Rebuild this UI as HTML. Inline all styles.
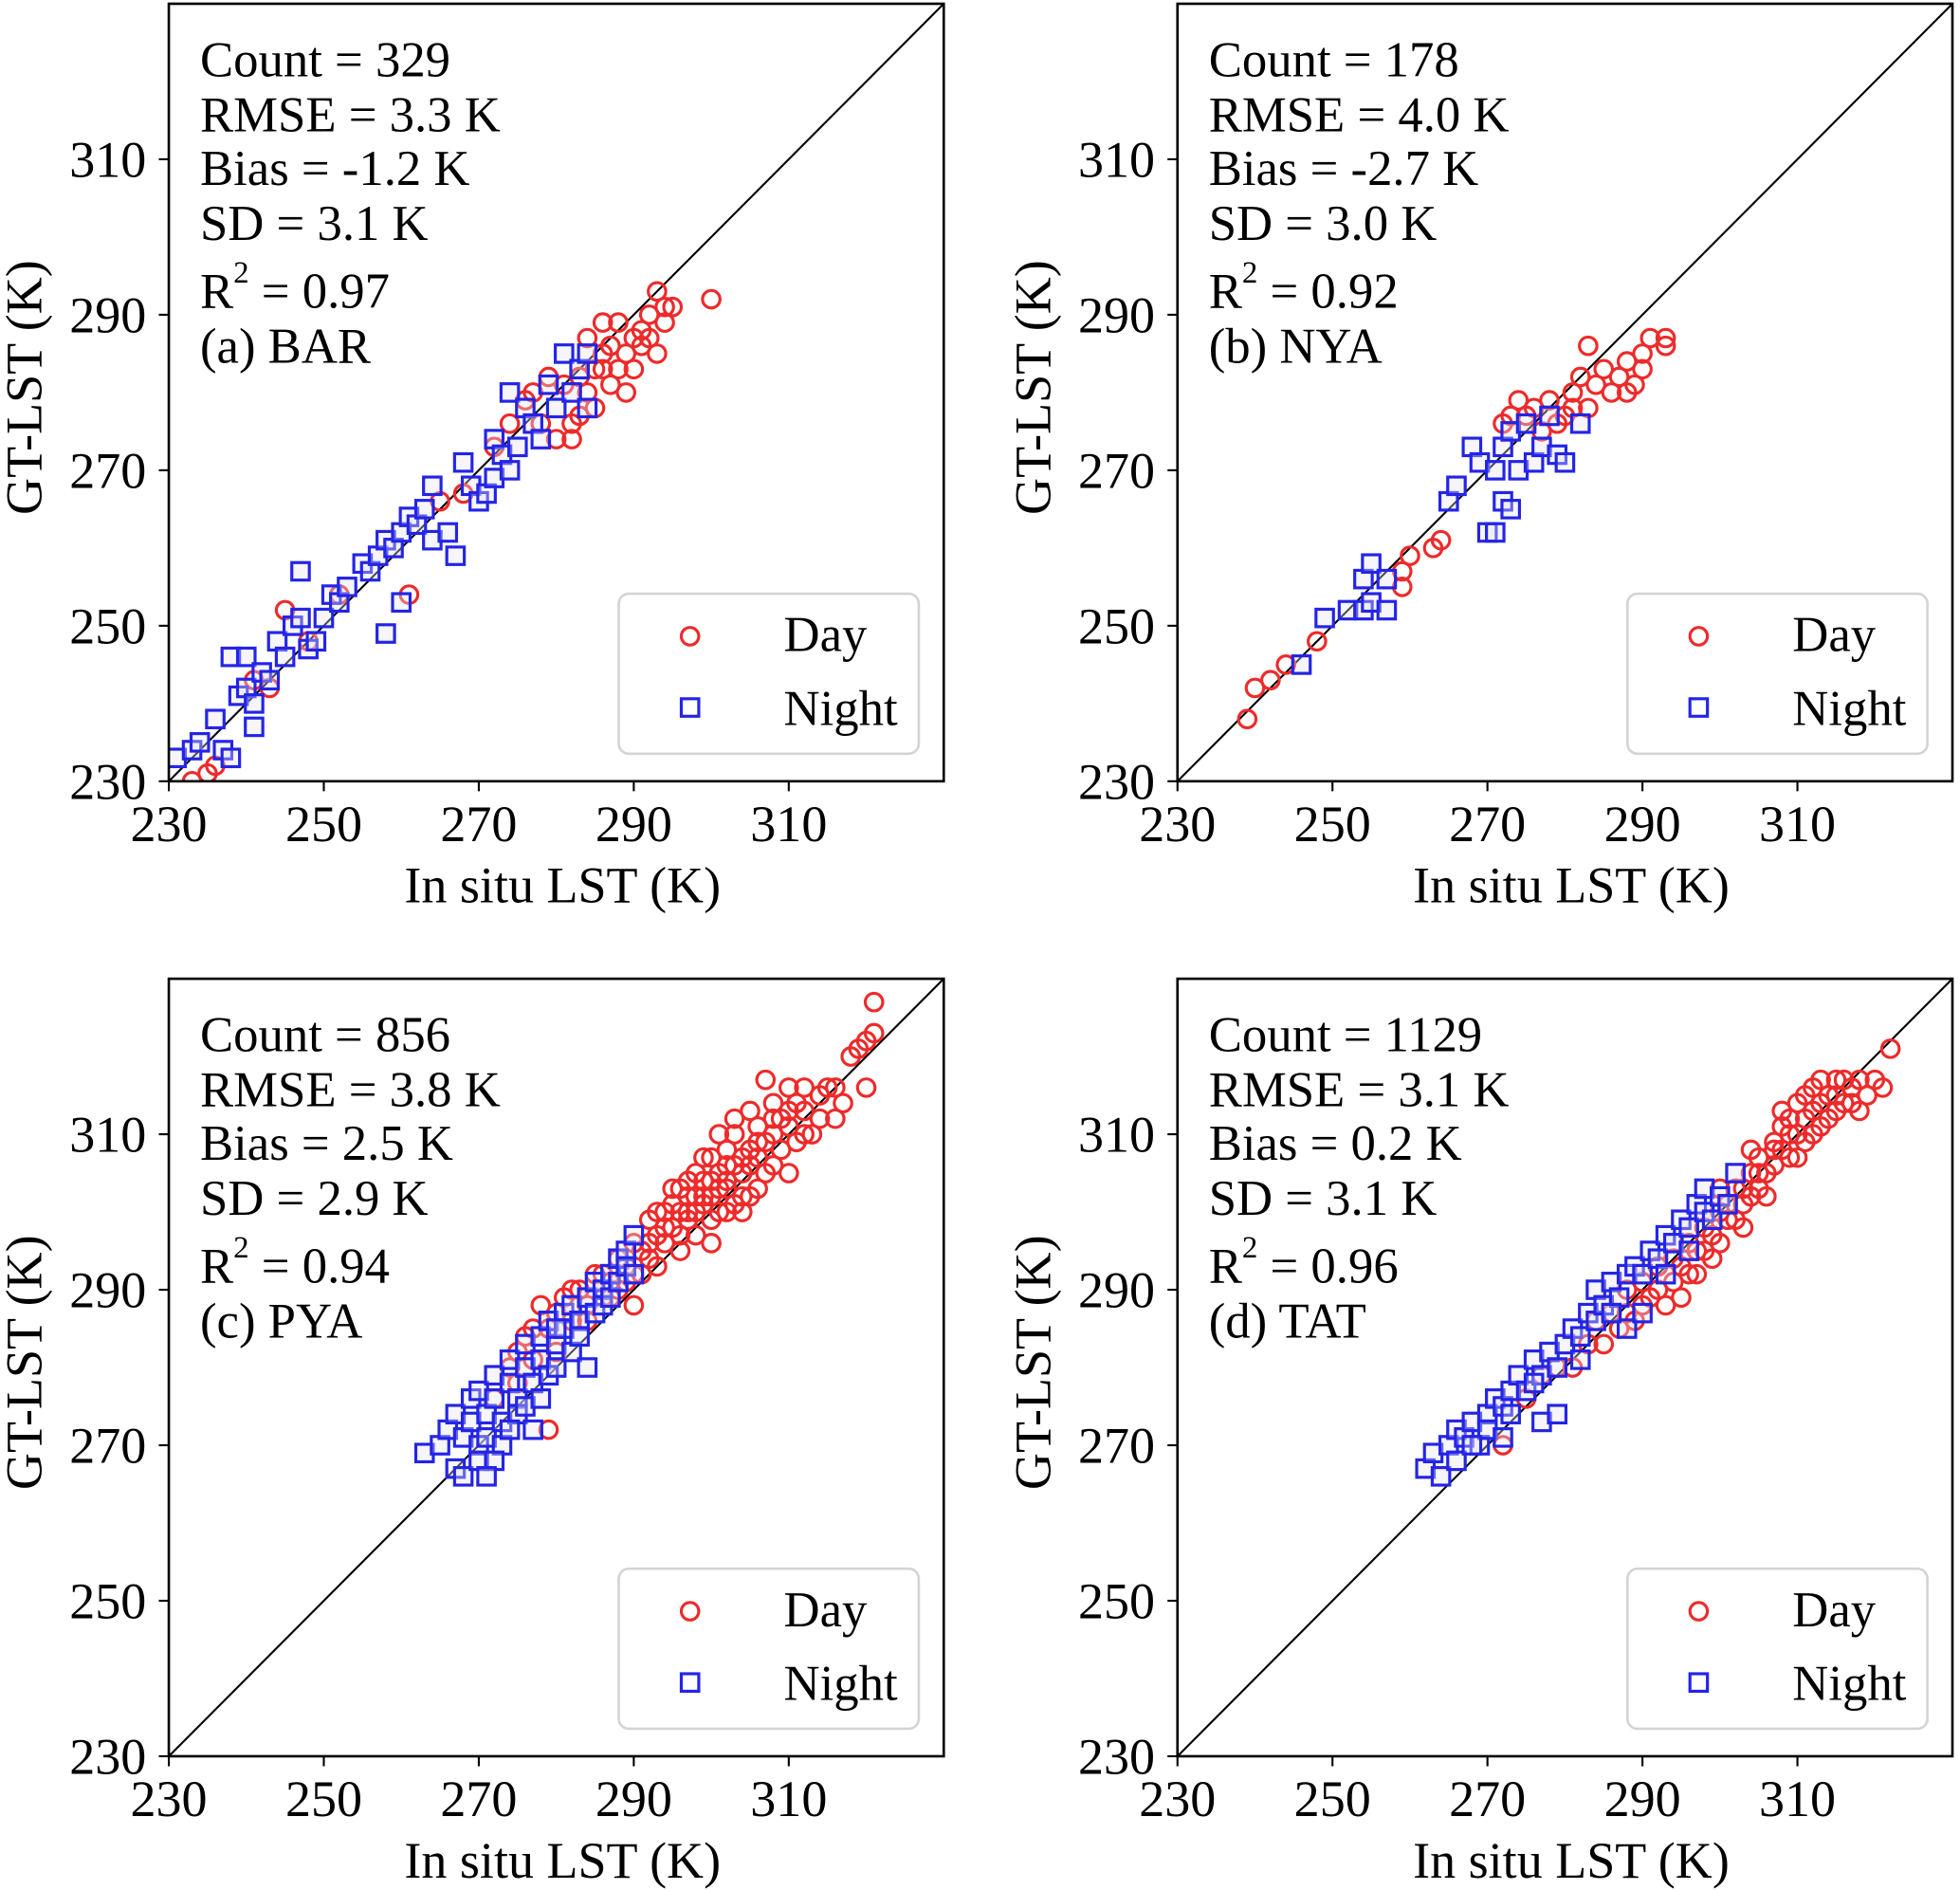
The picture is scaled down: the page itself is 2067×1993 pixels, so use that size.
<!DOCTYPE html>
<html><head><meta charset="utf-8"><style>
html,body{margin:0;padding:0;background:#fff;}
svg{display:block;font-family:"Liberation Serif",serif;}
</style></head><body>
<svg id="chart" width="2067" height="1993" viewBox="0 0 1568 1512" xmlns="http://www.w3.org/2000/svg"></svg>
<script>
const ticks=[230,250,270,290,310];
const panelNames=["(a) BAR","(b) NYA","(c) PYA","(d) TAT"];
const counts=["329","178","856","1129"];
const rmses=["3.3","4.0","3.8","3.1"];
const biases=["-1.2","-2.7","2.5","0.2"];
const sds=["3.1","3.0","2.9","3.1"];
const r2s=["0.97","0.92","0.94","0.96"];
const aDay=[[233,230],[235,231],[236,232],[241,243],[243,242],[245,252],[248,248],[252,254],[261,254],[265,266],[268,267],[272,273],[274,276],[276,279],[278,276],[280,274],[281,281],[282,276],[283,277],[283,282],[284,287],[284,280],[285,283],[285,278],[286,285],[286,289],[287,281],[287,286],[288,283],[288,289],[289,285],[289,280],[290,287],[290,283],[291,288],[291,286],[292,290],[292,287],[293,293],[293,285],[294,289],[294,291],[295,291],[300,292],[277,280],[279,282],[282,274],[286,283]];
const aNight=[[231,233],[233,234],[234,235],[236,238],[237,234],[238,233],[238,246],[239,241],[240,242],[240,246],[241,240],[241,237],[242,244],[243,243],[244,248],[245,246],[246,250],[247,251],[247,257],[248,247],[249,248],[250,251],[251,254],[252,253],[253,255],[255,258],[256,257],[257,259],[258,249],[258,261],[259,260],[260,262],[260,253],[261,264],[262,263],[263,265],[264,268],[264,261],[266,262],[267,259],[268,271],[269,268],[270,266],[271,267],[272,274],[272,269],[273,272],[274,270],[274,280],[275,273],[276,278],[277,276],[278,274],[279,281],[280,278],[281,285],[282,280],[283,283],[284,278],[284,285]];
const bDay=[[239,238],[240,242],[242,243],[244,245],[248,248],[259,255],[259,257],[260,259],[263,260],[264,261],[272,276],[273,277],[274,279],[275,277],[276,278],[278,279],[280,277],[281,280],[282,282],[283,286],[283,278],[284,281],[285,283],[286,280],[287,282],[288,284],[288,280],[289,281],[290,283],[290,285],[291,287],[293,286],[293,287],[277,275],[279,276],[281,278]];
const bNight=[[246,245],[249,251],[252,252],[254,252],[254,256],[255,258],[255,253],[257,252],[257,256],[265,266],[266,268],[268,273],[269,271],[270,262],[271,270],[271,262],[272,273],[272,266],[273,275],[273,265],[274,270],[275,276],[276,271],[277,273],[278,277],[279,272],[280,271],[282,276]];
const cDay=[[279,272],[272,276],[274,280],[275,282],[276,284],[277,281],[278,288],[279,285],[280,287],[281,289],[282,286],[283,290],[284,288],[285,292],[286,289],[287,291],[288,290],[288,294],[289,293],[290,288],[290,296],[291,295],[291,292],[292,299],[292,294],[293,297],[293,293],[294,300],[294,296],[295,298],[295,301],[296,295],[296,303],[297,299],[297,302],[298,297],[298,305],[299,301],[299,304],[300,299],[300,307],[300,302],[301,305],[301,300],[302,303],[302,308],[302,306],[303,301],[303,310],[304,305],[304,302],[305,308],[305,306],[306,311],[306,303],[307,309],[307,305],[308,314],[308,310],[309,308],[309,312],[310,316],[310,311],[311,309],[311,314],[312,316],[312,313],[313,310],[314,315],[315,316],[316,312],[317,314],[318,320],[319,321],[320,322],[320,316],[321,327],[321,323],[297,304],[295,303],[293,300],[299,307],[301,310],[303,312],[305,313],[307,317],[300,296],[304,300],[306,307],[296,297],[290,292],[286,292],[284,286],[282,290],[280,282],[277,285],[275,278],[298,300],[302,300],[308,306],[312,310],[314,312],[316,316],[310,305],[305,302],[296,300],[298,302],[300,304],[302,304],[304,307],[306,309],[308,312],[310,313],[301,303],[303,306],[299,302],[297,300],[294,298],[292,296],[289,291],[287,289]];
const cNight=[[263,269],[265,270],[266,272],[267,267],[267,274],[268,271],[268,266],[269,276],[269,273],[270,270],[270,268],[270,277],[271,274],[271,271],[272,279],[272,276],[273,273],[273,270],[274,278],[274,281],[275,276],[275,274],[276,280],[276,283],[277,278],[277,272],[278,284],[278,281],[279,279],[279,286],[280,283],[280,280],[281,287],[281,285],[282,282],[282,288],[283,286],[283,284],[284,289],[284,280],[285,291],[285,287],[286,290],[286,288],[287,292],[287,289],[288,294],[288,291],[289,295],[289,293],[290,297],[290,292],[272,268],[271,266],[274,272],[276,275],[278,276],[280,285]];
const dDay=[[272,270],[275,276],[277,279],[279,280],[281,280],[283,283],[284,286],[285,283],[286,287],[287,285],[288,290],[288,287],[289,286],[290,291],[290,288],[291,289],[292,293],[292,290],[293,288],[294,294],[294,291],[295,293],[296,296],[296,292],[297,295],[298,298],[298,295],[299,297],[300,300],[300,296],[301,299],[302,303],[302,299],[303,301],[304,305],[304,302],[305,303],[305,307],[306,305],[307,309],[307,306],[308,308],[308,311],[309,307],[309,312],[310,310],[310,314],[311,312],[311,309],[312,316],[312,313],[313,311],[313,317],[314,315],[314,312],[315,317],[316,314],[316,317],[317,316],[318,313],[318,317],[319,315],[320,317],[321,316],[322,321],[306,302],[310,307],[312,310],[315,313],[303,298],[299,294],[297,292],[295,289],[300,303],[304,308],[308,313],[311,315],[313,314],[315,315],[317,314],[309,310],[307,308],[305,305],[303,303],[301,301]];
const dNight=[[262,267],[263,269],[264,266],[265,270],[266,268],[266,272],[267,271],[268,273],[269,270],[270,274],[270,272],[271,276],[272,275],[273,277],[273,274],[274,279],[275,277],[276,281],[277,279],[277,273],[278,282],[279,280],[279,274],[280,283],[281,285],[282,284],[283,287],[284,286],[284,290],[285,288],[286,291],[287,289],[288,292],[288,285],[289,293],[290,292],[291,295],[292,294],[293,297],[294,296],[295,299],[296,298],[297,301],[298,300],[298,303],[299,299],[300,302],[301,301],[302,305],[296,295],[293,292],[290,287],[286,287],[282,281],[276,278],[272,271],[268,270]];
const dayData=[aDay,bDay,cDay,dDay];
const nightData=[aNight,bNight,cNight,dNight];

const NS="http://www.w3.org/2000/svg";
const svg=document.getElementById('chart');
function mk(tag,attrs,parent){const e=document.createElementNS(NS,tag);for(const k in attrs)e.setAttribute(k,attrs[k]);(parent||svg).appendChild(e);return e;}
const origins=[[135,3],[942,3],[135,783],[942,783]];
const W=620,H=622,MIN=230,MAX=330;
origins.forEach((o,i)=>{
  const [x0,y0]=o;
  const g=mk('g',{});
  
  
  const sx=v=>x0+(v-MIN)/(MAX-MIN)*W;
  const sy=v=>y0+H-(v-MIN)/(MAX-MIN)*H;
  const clip=mk('clipPath',{id:'clip'+i},g);
  mk('rect',{x:x0,y:y0,width:W,height:H},clip);
  const pg=mk('g',{'clip-path':'url(#clip'+i+')'},g);
  const dl=mk('line',{x1:sx(MIN),y1:sy(MIN),x2:sx(MAX),y2:sy(MAX),stroke:'#000','stroke-width':1.6},pg);
  
  
  dayData[i].forEach(p=>{
    const c=mk('circle',{cx:sx(p[0]),cy:sy(p[1]),r:7,fill:'none',stroke:'#ee2a2a','stroke-width':2.4},pg);
    
    
  });
  nightData[i].forEach(p=>{
    const r=mk('rect',{x:sx(p[0])-7,y:sy(p[1])-7,width:14,height:14,fill:'rgba(225,225,240,0.35)',stroke:'#2424e6','stroke-width':2.4},pg);
    
    
  });
  const fr=mk('rect',{x:x0,y:y0,width:W,height:H,fill:'none',stroke:'#000','stroke-width':2},g);
  
  
  ticks.forEach(t=>{
    mk('line',{x1:sx(t),y1:y0+H,x2:sx(t),y2:y0+H+8,stroke:'#000','stroke-width':1.6},g);
    const tx=mk('text',{x:sx(t),y:y0+H+48,'font-size':41,'text-anchor':'middle'},g);
    tx.textContent=t;
    
    
    mk('line',{x1:x0-8,y1:sy(t),x2:x0,y2:sy(t),stroke:'#000','stroke-width':1.6},g);
    const ty=mk('text',{x:x0-18,y:sy(t)+14,'font-size':41,'text-anchor':'end'},g);
    ty.textContent=t;
    
    
  });
  const xl=mk('text',{x:x0+315,y:y0+H+97,'font-size':41,'text-anchor':'middle'},g);
  xl.textContent='In situ LST (K)';
  
  
  const yl=mk('text',{x:0,y:0,'font-size':41,'text-anchor':'middle',transform:`translate(${x0-102},${y0+307}) rotate(-90)`},g);
  yl.textContent='GT-LST (K)';
  
  
  const lines=['Count = '+counts[i],'RMSE = '+rmses[i]+' K','Bias = '+biases[i]+' K','SD = '+sds[i]+' K'];
  const bl=[58,102,145,189];
  lines.forEach((s,k)=>{
    const t=mk('text',{x:x0+25,y:y0+bl[k],'font-size':40},g);
    t.textContent=s;
    
    
  });
  const r2=mk('text',{x:x0+25,y:y0+243,'font-size':40},g);
  r2.innerHTML='R<tspan font-size="25" dy="-20">2</tspan><tspan dy="20"> = '+r2s[i]+'</tspan>';
  
  
  const pn=mk('text',{x:x0+25,y:y0+287,'font-size':40},g);
  pn.textContent=panelNames[i];
  
  
  const lg=mk('g',{},g);
  
  
  mk('rect',{x:x0+360,y:y0+472,width:240,height:128,rx:8,fill:'#fff','fill-opacity':0.85,stroke:'#d4d4d4','stroke-width':2},lg);
  mk('circle',{cx:x0+417,cy:y0+506,r:7,fill:'none',stroke:'#ee2a2a','stroke-width':2.4},lg);
  mk('rect',{x:x0+410,y:y0+556,width:14,height:14,fill:'none',stroke:'#2424e6','stroke-width':2.4},lg);
  const t1=mk('text',{x:x0+492,y:y0+518,'font-size':40},lg);
  t1.textContent='Day';
  
  
  const t2=mk('text',{x:x0+492,y:y0+577,'font-size':40},lg);
  t2.textContent='Night';
  
  
});
</script>
</body></html>
